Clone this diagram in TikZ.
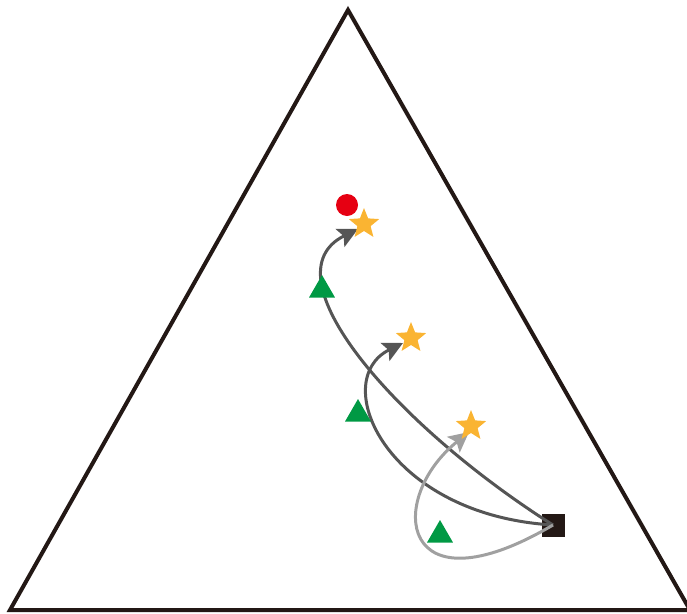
\documentclass[tikz,border=0pt]{standalone}
\usepackage{xcolor}
\usepackage{tikz}
\usetikzlibrary{shapes.geometric,arrows.meta,positioning}
\definecolor{frameink}{RGB}{35,24,21}
\definecolor{rosso}{RGB}{230,0,18}
\definecolor{amber}{RGB}{250,180,50}
\definecolor{leaf}{RGB}{0,153,68}
\definecolor{darkpath}{RGB}{85,85,85}
\definecolor{lightpath}{RGB}{160,160,160}
\tikzset{
  frame/.style={draw=frameink,line width=4pt,line join=miter},
  startbox/.style={rectangle,fill=frameink,minimum size=23pt,inner sep=0pt},
  target/.style={circle,fill=rosso,minimum size=22pt,inner sep=0pt},
  reached/.style={star,star points=5,star point ratio=2.3,fill=amber,
              minimum size=32pt,inner sep=0pt},
  interim/.style={regular polygon,regular polygon sides=3,fill=leaf,
              minimum size=30pt,inner sep=0pt},
  traj/.style={-{Stealth[length=20pt,width=20pt,inset=4pt]},line width=3pt,draw=darkpath},
  trajlight/.style={-{Stealth[length=20pt,width=20pt,inset=4pt]},line width=3pt,draw=lightpath},
}
\begin{document}
\begin{tikzpicture}[x=1pt,y=-1pt]
  \useasboundingbox (0,0) rectangle (687,613);
  \clip (0,0) rectangle (687,613);
  % simplex
  \coordinate (apex) at (348,10);
  \coordinate (left) at (10,610);
  \coordinate (right) at (690,610);
  \draw[frame] (apex) -- (left) -- (right) -- cycle;

  \node[startbox] (origin) at (553,525) {};
  \coordinate (tipA) at (358,229);
  \coordinate (tipB) at (403,343);
  \coordinate (tipC) at (469,432);

  % trajectories
  \draw[traj] (origin.center) .. controls (395,425) and (265,275) .. (tipA);
  \draw[traj] (origin.center) .. controls (385,515) and (328,380) .. (tipB);
  \draw[trajlight] (origin.center) .. controls (400,615) and (385,500) .. (tipC);

  \node[target] (goal) at (347,205) {};
  \node[reached] (endA) at (364,224) {};
  \node[reached] (endB) at (411,338) {};
  \node[reached] (endC) at (471,426) {};
  \node[interim] (midA) at (322,290) {};
  \node[interim] (midB) at (358,414) {};
  \node[interim] (midC) at (440,535) {};
\end{tikzpicture}
\end{document}
